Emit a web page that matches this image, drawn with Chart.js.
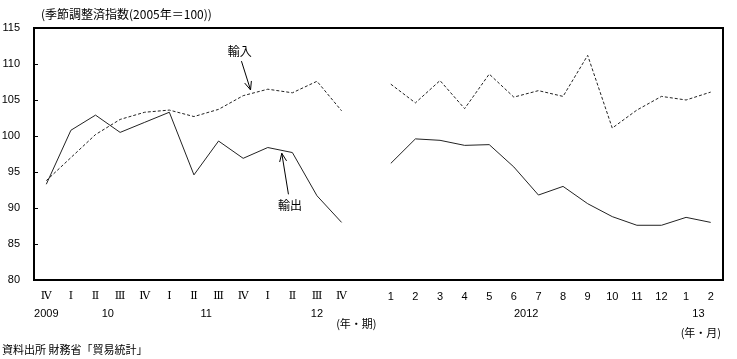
<!DOCTYPE html>
<html>
<head>
<meta charset="utf-8">
<script src="https://cdn.jsdelivr.net/npm/chart.js@4.4.1/dist/chart.umd.min.js"></script>
<style>
  html, body { margin: 0; padding: 0; background: #fff; }
  canvas { display: block; }
</style>
</head>
<body>
<canvas id="tradeChart" width="737" height="359"></canvas>
<script>
// Categories: quarters 2009 IV - 2012 IV, one blank slot, months 2012/1 - 2013/2
const quarterLabels = ["Ⅳ", "Ⅰ", "Ⅱ", "Ⅲ", "Ⅳ", "Ⅰ", "Ⅱ", "Ⅲ", "Ⅳ", "Ⅰ", "Ⅱ", "Ⅲ", "Ⅳ"];
const monthLabels = ["1", "2", "3", "4", "5", "6", "7", "8", "9", "10", "11", "12", "1", "2"];

// Seasonally adjusted index (2005 = 100)
const exportsQuarterly = [93.3, 100.8, 102.9, 100.5, 101.9, 103.3, 94.6, 99.3, 96.9, 98.4, 97.7, 91.7, 88.0];
const importsQuarterly = [93.8, 97.0, 100.2, 102.3, 103.3, 103.6, 102.7, 103.7, 105.6, 106.5, 106.0, 107.6, 103.5];
const exportsMonthly = [96.2, 99.6, 99.4, 98.7, 98.8, 95.7, 91.8, 93.0, 90.6, 88.8, 87.6, 87.6, 88.7, 88.0];
const importsMonthly = [107.2, 104.6, 107.7, 103.8, 108.6, 105.4, 106.3, 105.5, 111.2, 101.1, 103.6, 105.5, 105.0, 106.1];

// Second row of the x axis (year labels), placed at category index
const yearLabels = ["2009", "10", "11", "12", "2012", "13"];
const yearIndex = [0, 2.5, 6.5, 11, 19.5, 26.5];

const categories = [...quarterLabels, "", ...monthLabels];
const exportsData = [...exportsQuarterly, null, ...exportsMonthly];
const importsData = [...importsQuarterly, null, ...importsMonthly];

const jp = '"Noto Sans CJK JP", "Noto Sans", sans-serif';
const numFont = '"Liberation Sans", Arial, sans-serif';
const ink = "#000";

// Arrows with labels, in data coordinates (category index, index value)
const notes = [
  { text: "輸入", tx: 7.86, ty: 111.7, from: [7.93, 110.4], to: [8.3, 106.4] },
  { text: "輸出", tx: 9.9, ty: 90.3, from: [9.84, 91.9], to: [9.57, 97.6] }
];

const decor = {
  id: "decor",
  afterDraw(chart) {
    const { ctx, chartArea: a, scales } = chart;
    const xs = scales.x, ys = scales.y;
    ctx.save();

    // frame
    ctx.strokeStyle = ink;
    ctx.lineWidth = 2;
    ctx.strokeRect(Math.round(a.left), Math.round(a.top), Math.round(a.right - a.left), Math.round(a.bottom - a.top));

    // inner tick marks on the y axis
    ctx.lineWidth = 1;
    ys.ticks.forEach((t) => {
      const y = Math.round(ys.getPixelForValue(t.value)) + 0.5;
      ctx.beginPath();
      ctx.moveTo(a.left, y);
      ctx.lineTo(a.left + 4, y);
      ctx.stroke();
    });

    // title
    ctx.fillStyle = ink;
    ctx.textBaseline = "middle";
    ctx.textAlign = "left";
    ctx.font = "12px " + jp;
    ctx.fillText("(季節調整済指数(2005年＝100))", 41, 14);

    // year row
    ctx.textAlign = "center";
    ctx.font = "11px " + numFont;
    yearLabels.forEach((lab, i) => {
      ctx.fillText(lab, xs.getPixelForValue(yearIndex[i]), a.bottom + 34);
    });

    // unit labels
    ctx.font = "11px " + jp;
    ctx.fillText("(年・期)", xs.getPixelForValue(12.6), a.bottom + 44);
    ctx.fillText("(年・月)", xs.getPixelForValue(26.6), a.bottom + 53);

    // source
    ctx.textAlign = "left";
    ctx.fillText("資料出所 財務省「貿易統計」", 2, 350);

    // annotations
    notes.forEach((n) => {
      ctx.font = "12px " + jp;
      ctx.textAlign = "center";
      ctx.fillText(n.text, xs.getPixelForValue(n.tx), ys.getPixelForValue(n.ty));
      const x1 = xs.getPixelForValue(n.from[0]), y1 = ys.getPixelForValue(n.from[1]);
      const x2 = xs.getPixelForValue(n.to[0]), y2 = ys.getPixelForValue(n.to[1]);
      const ang = Math.atan2(y2 - y1, x2 - x1);
      const head = 9;
      ctx.beginPath();
      ctx.moveTo(x1, y1);
      ctx.lineTo(x2, y2);
      ctx.moveTo(x2 - head * Math.cos(ang - 0.4), y2 - head * Math.sin(ang - 0.4));
      ctx.lineTo(x2, y2);
      ctx.lineTo(x2 - head * Math.cos(ang + 0.4), y2 - head * Math.sin(ang + 0.4));
      ctx.stroke();
    });

    ctx.restore();
  }
};

new Chart(document.getElementById("tradeChart"), {
  type: "line",
  data: {
    labels: categories,
    datasets: [
      {
        label: "輸出",
        data: exportsData,
        borderColor: "#222",
        borderWidth: 1,
        pointRadius: 0,
        tension: 0,
        spanGaps: false,
        fill: false
      },
      {
        label: "輸入",
        data: importsData,
        borderColor: "#222",
        borderWidth: 1,
        borderDash: [3, 2],
        pointRadius: 0,
        tension: 0,
        spanGaps: false,
        fill: false
      }
    ]
  },
  options: {
    responsive: false,
    animation: false,
    layout: { padding: { top: 28, right: 14, left: 0, bottom: 0 } },
    plugins: {
      legend: { display: false },
      tooltip: { enabled: false }
    },
    scales: {
      x: {
        type: "category",
        offset: true,
        grid: { display: false },
        border: { display: false },
        ticks: {
          autoSkip: false,
          maxRotation: 0,
          padding: 2,
          color: ink,
          font: (c) => (c.index < quarterLabels.length
            ? { family: '"DejaVu Serif", "Liberation Serif", serif', size: 11 }
            : { family: numFont, size: 11 })
        },
        afterFit: (s) => { s.height = 79; }
      },
      y: {
        min: 80,
        max: 115,
        grid: { display: false },
        border: { display: false },
        ticks: {
          stepSize: 5,
          padding: 6,
          color: ink,
          font: { family: numFont, size: 11 }
        },
        afterFit: (s) => { s.width = 34; }
      }
    }
  },
  plugins: [decor]
});
</script>
</body>
</html>
